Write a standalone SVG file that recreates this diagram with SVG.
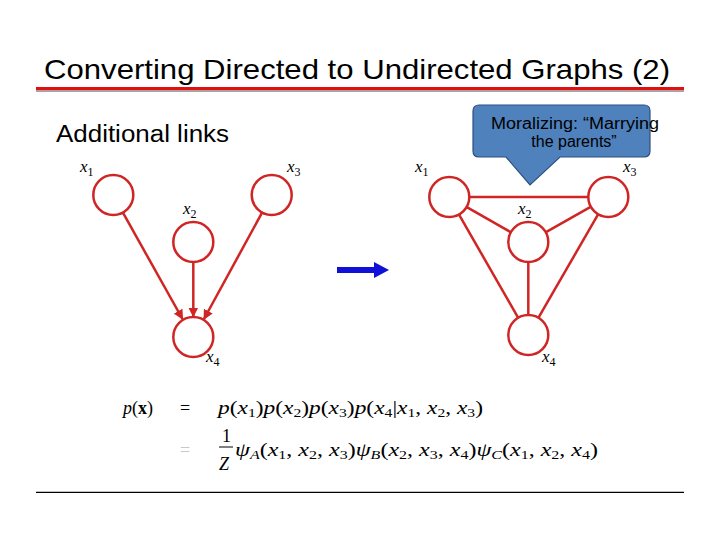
<svg xmlns="http://www.w3.org/2000/svg" width="720" height="540" viewBox="0 0 720 540">
<defs>
<style>
.title{font-family:"Liberation Sans","Noto Sans",sans-serif;font-size:28px;fill:#000}
.sub{font-family:"Liberation Sans","Noto Sans",sans-serif;font-size:23px;fill:#000}
.node{fill:#fff;stroke:#d02525;stroke-width:2.5}
.edge{stroke:#d02525;stroke-width:2.5;fill:none}
.lbl{font-family:"Liberation Serif","DejaVu Serif",serif;font-style:italic;font-size:17px;fill:#000}
.s{font-style:normal;font-size:12px}
.si{font-style:italic;font-size:12px}
.math{font-family:"Liberation Serif","DejaVu Serif",serif;font-style:italic;font-size:18px;fill:#000}
.up{font-style:normal}
.callout{fill:#4f81bd;stroke:#2f4f7f;stroke-width:1.2}
.ctext{font-family:"Liberation Sans",Arial,sans-serif;font-size:16px;fill:#000;text-anchor:middle}
</style>
<marker id="ah" viewBox="0 0 10 10" refX="9" refY="5" markerWidth="4" markerHeight="4" orient="auto" markerUnits="strokeWidth">
<path d="M0,0 L10,5 L0,10 Z" fill="#d02525"/>
</marker>
</defs>
<rect width="720" height="540" fill="#fff"/>

<g id="title">
<text class="title" x="44" y="79" textLength="626" lengthAdjust="spacingAndGlyphs">Converting Directed to Undirected Graphs (2)</text>
<rect x="36" y="89.5" width="648" height="2.5" fill="#b0a0a0"/>
<rect x="36" y="87" width="648" height="3" fill="#e01010"/>
</g>

<g id="subtitle">
<text class="sub" x="56" y="142" textLength="173" lengthAdjust="spacingAndGlyphs">Additional links</text>
</g>

<g id="connectors">
<line class="edge" x1="122.8" y1="212.4" x2="182.5" y2="319" marker-end="url(#ah)"/>
<line class="edge" x1="193.3" y1="262" x2="193.3" y2="316.5" marker-end="url(#ah)"/>
<line class="edge" x1="262.2" y1="212.4" x2="204" y2="319" marker-end="url(#ah)"/>

<line class="edge" x1="469" y1="197" x2="588" y2="197"/>
<line class="edge" x1="466.4" y1="206.9" x2="510.6" y2="232.1"/>
<line class="edge" x1="590.6" y1="206.9" x2="546" y2="232.1"/>
<line class="edge" x1="528.3" y1="262" x2="528.3" y2="315"/>
<line class="edge" x1="458.9" y1="214.4" x2="518.1" y2="317.6"/>
<line class="edge" x1="598.1" y1="214.4" x2="538.5" y2="317.6"/>

<g id="blue-arrow">
<line x1="337" y1="270" x2="375" y2="270" stroke="#1010d8" stroke-width="6"/>
<path d="M374,262 L389,270 L374,278 Z" fill="#1010d8"/>
</g>
</g>

<g id="L1"><circle class="node" cx="113.3" cy="195" r="20"/><text class="lbl" x="80" y="172">x<tspan class="s" dy="4">1</tspan></text></g>
<g id="L2"><circle class="node" cx="193.3" cy="242" r="20"/><text class="lbl" x="183" y="214">x<tspan class="s" dy="4">2</tspan></text></g>
<g id="L3"><circle class="node" cx="271.7" cy="195" r="20"/><text class="lbl" x="287" y="172">x<tspan class="s" dy="4">3</tspan></text></g>
<g id="L4"><circle class="node" cx="193.3" cy="337" r="20"/><text class="lbl" x="206" y="362">x<tspan class="s" dy="4">4</tspan></text></g>

<g id="R1"><circle class="node" cx="449.3" cy="197" r="20"/><text class="lbl" x="415" y="172">x<tspan class="s" dy="4">1</tspan></text></g>
<g id="R2"><circle class="node" cx="528.3" cy="242" r="20"/><text class="lbl" x="518" y="214">x<tspan class="s" dy="4">2</tspan></text></g>
<g id="R3"><circle class="node" cx="608.3" cy="197" r="20"/><text class="lbl" x="623" y="172">x<tspan class="s" dy="4">3</tspan></text></g>
<g id="R4"><circle class="node" cx="528.3" cy="335" r="20"/><text class="lbl" x="542" y="362">x<tspan class="s" dy="4">4</tspan></text></g>

<g id="callout">
<path class="callout" d="M479,105 H644 Q650,105 650,111 V151 Q650,157 644,157 H560 L530,185 L506,157 H479 Q473,157 473,151 V111 Q473,105 479,105 Z"/>
<text class="ctext" x="575" y="129" textLength="168" lengthAdjust="spacingAndGlyphs">Moralizing: “Marrying</text>
<text class="ctext" x="574" y="147">the parents”</text>
</g>

<g id="equations">
<text class="math" x="123" y="414">p<tspan class="up">(</tspan><tspan class="up" font-weight="bold">x</tspan><tspan class="up">)</tspan></text>
<text class="math" x="180" y="414" style="font-style:normal">=</text>
<text class="math" x="218" y="414" textLength="265" lengthAdjust="spacingAndGlyphs">p<tspan class="up">(</tspan>x<tspan class="s" dy="3">1</tspan><tspan class="up" dy="-3">)</tspan>p<tspan class="up">(</tspan>x<tspan class="s" dy="3">2</tspan><tspan class="up" dy="-3">)</tspan>p<tspan class="up">(</tspan>x<tspan class="s" dy="3">3</tspan><tspan class="up" dy="-3">)</tspan>p<tspan class="up">(</tspan>x<tspan class="s" dy="3">4</tspan><tspan class="up" dy="-3">|</tspan>x<tspan class="s" dy="3">1</tspan><tspan class="up" dy="-3">, </tspan>x<tspan class="s" dy="3">2</tspan><tspan class="up" dy="-3">, </tspan>x<tspan class="s" dy="3">3</tspan><tspan class="up" dy="-3">)</tspan></text>
<text class="math" x="180" y="456" style="font-style:normal;fill:#c8c8c8">=</text>
<text class="math" x="222" y="442" style="font-style:normal">1</text>
<line x1="219" y1="447" x2="233" y2="447" stroke="#000" stroke-width="1"/>
<text class="math" x="219" y="470">Z</text>
<text class="math" x="235" y="456" textLength="363" lengthAdjust="spacingAndGlyphs">ψ<tspan class="si" dy="3">A</tspan><tspan class="up" dy="-3">(</tspan>x<tspan class="s" dy="3">1</tspan><tspan class="up" dy="-3">, </tspan>x<tspan class="s" dy="3">2</tspan><tspan class="up" dy="-3">, </tspan>x<tspan class="s" dy="3">3</tspan><tspan class="up" dy="-3">)</tspan>ψ<tspan class="si" dy="3">B</tspan><tspan class="up" dy="-3">(</tspan>x<tspan class="s" dy="3">2</tspan><tspan class="up" dy="-3">, </tspan>x<tspan class="s" dy="3">3</tspan><tspan class="up" dy="-3">, </tspan>x<tspan class="s" dy="3">4</tspan><tspan class="up" dy="-3">)</tspan>ψ<tspan class="si" dy="3">C</tspan><tspan class="up" dy="-3">(</tspan>x<tspan class="s" dy="3">1</tspan><tspan class="up" dy="-3">, </tspan>x<tspan class="s" dy="3">2</tspan><tspan class="up" dy="-3">, </tspan>x<tspan class="s" dy="3">4</tspan><tspan class="up" dy="-3">)</tspan></text>
</g>

<g id="footer-line">
<line x1="36" y1="492.3" x2="684" y2="492.3" stroke="#000" stroke-width="1.3"/>
</g>
</svg>
